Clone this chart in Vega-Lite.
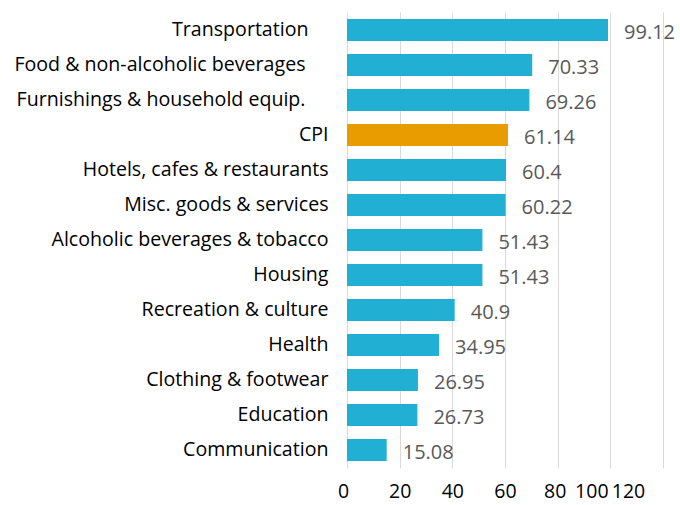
{
  "$schema": "https://vega.github.io/schema/vega-lite/v6.json",
  "autosize": "none",
  "width": 316,
  "height": 456,
  "padding": {"left": 347, "top": 12, "right": 17, "bottom": 37},
  "background": "white",
  "config": {"view": {"stroke": null}},
  "data": {"values": [
    {"category": "Transportation", "value": 99.12, "type": "item"},
    {"category": "Food & non-alcoholic beverages", "value": 70.33, "type": "item"},
    {"category": "Furnishings & household equip.", "value": 69.26, "type": "item"},
    {"category": "CPI", "value": 61.14, "type": "cpi"},
    {"category": "Hotels, cafes & restaurants", "value": 60.4, "type": "item"},
    {"category": "Misc. goods & services", "value": 60.22, "type": "item"},
    {"category": "Alcoholic beverages & tobacco", "value": 51.43, "type": "item"},
    {"category": "Housing", "value": 51.43, "type": "item"},
    {"category": "Recreation & culture", "value": 40.9, "type": "item"},
    {"category": "Health", "value": 34.95, "type": "item"},
    {"category": "Clothing & footwear", "value": 26.95, "type": "item"},
    {"category": "Education", "value": 26.73, "type": "item"},
    {"category": "Communication", "value": 15.08, "type": "item"}
  ]},
  "encoding": {
    "y": {
      "field": "category", "type": "nominal", "sort": null,
      "scale": {"paddingInner": 0.37, "paddingOuter": 0.2},
      "axis": {
        "title": null, "ticks": false, "domain": false, "grid": false,
        "labelFont": "Open Sans", "labelFontSize": 19.6, "labelColor": "#000000",
        "labelLimit": 400,
        "labelPadding": {"condition": [
          {"test": "datum.value == 'Transportation'", "value": 39},
          {"test": "datum.value == 'Food & non-alcoholic beverages' || datum.value == 'Furnishings & household equip.'", "value": 42}
        ], "value": 19}
      }
    },
    "x": {
      "field": "value", "type": "quantitative",
      "scale": {"domain": [0, 120], "nice": false},
      "axis": {
        "title": null, "values": [0, 20, 40, 60, 80, 100, 120],
        "ticks": false, "domain": false, "labelOverlap": false, "labelFlush": false,
        "grid": true, "gridColor": "#d9d9d9", "gridWidth": 1,
        "labelFont": "Open Sans", "labelFontSize": 19.5, "labelColor": "#000000",
        "labelPadding": 14,
        "labelOffset": {"condition": [
          {"test": "datum.value == 0", "value": -4},
          {"test": "datum.value == 80", "value": -3},
          {"test": "datum.value == 100", "value": -19},
          {"test": "datum.value == 120", "value": -35}
        ], "value": 0}
      }
    }
  },
  "layer": [
    {
      "mark": {"type": "bar"},
      "encoding": {
        "color": {
          "field": "type", "type": "nominal",
          "scale": {"domain": ["item", "cpi"], "range": ["#21B0D3", "#E99C00"]},
          "legend": null
        }
      }
    },
    {
      "mark": {"type": "text", "align": "left", "baseline": "middle", "dx": 16, "dy": 3, "font": "Open Sans", "fontSize": 20, "color": "#595959"},
      "encoding": {"text": {"field": "value", "type": "quantitative"}}
    }
  ]
}
